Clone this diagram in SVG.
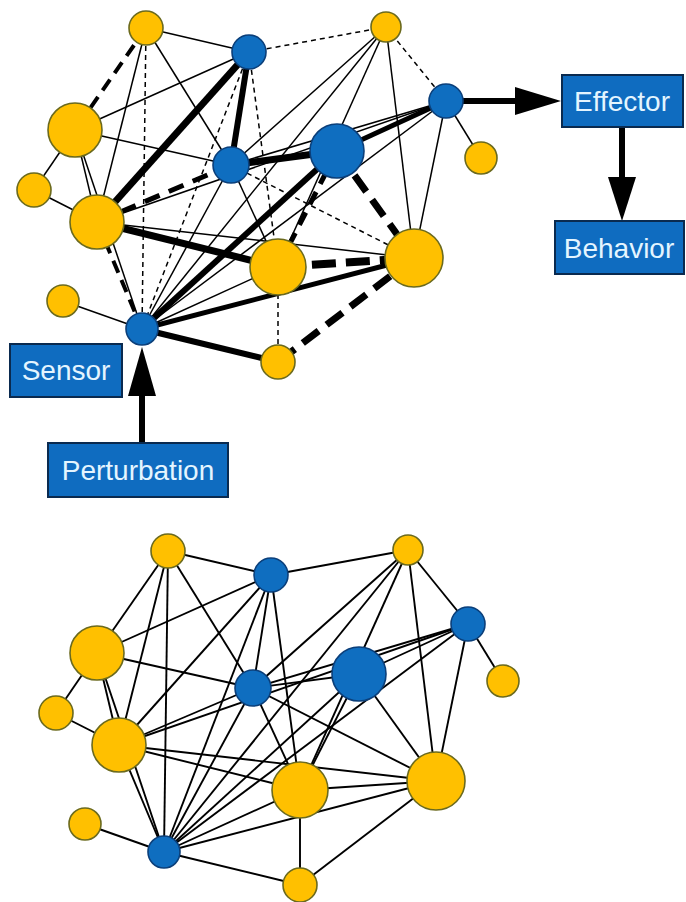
<svg xmlns="http://www.w3.org/2000/svg" width="686" height="902" viewBox="0 0 686 902">
<style>
.e line{stroke:#000;fill:none}
.t{stroke-width:1.5}
.td{stroke-width:1.5;stroke-dasharray:5 4}
.b line{stroke-width:1.9}
.y{fill:#FFC000;stroke:#6b6a1e;stroke-width:1.6}
.u{fill:#0F6EC0;stroke:#0b3f7a;stroke-width:1.6}
.box{fill:#0F6CC0;stroke:#0a2a4f;stroke-width:2}
.lbl{font-family:"Liberation Sans",Arial,sans-serif;font-size:28px;fill:#e4f5ff;text-anchor:middle}
</style>
<rect width="686" height="902" fill="#fff"/>
<g id="connectors">
<g class="e">
<line class="t" x1="146" y1="28" x2="249" y2="52"/>
<line class="td" x1="146" y1="28" x2="142" y2="329"/>
<line class="t" x1="146" y1="28" x2="97" y2="222"/>
<line class="t" x1="146" y1="28" x2="231" y2="165"/>
<line class="td" x1="249" y1="52" x2="386" y2="27"/>
<line class="td" x1="249" y1="52" x2="142" y2="329"/>
<line class="td" x1="249" y1="52" x2="278" y2="267"/>
<line class="t" x1="249" y1="52" x2="75" y2="130"/>
<line class="td" x1="386" y1="27" x2="446" y2="101"/>
<line class="t" x1="386" y1="27" x2="231" y2="165"/>
<line class="t" x1="386" y1="27" x2="278" y2="267"/>
<line class="t" x1="386" y1="27" x2="414" y2="258"/>
<line class="t" x1="386" y1="27" x2="142" y2="329"/>
<line class="t" x1="446" y1="101" x2="481" y2="158"/>
<line class="t" x1="446" y1="101" x2="414" y2="258"/>
<line class="t" x1="446" y1="101" x2="231" y2="165"/>
<line class="t" x1="446" y1="101" x2="142" y2="329"/>
<line class="t" x1="446" y1="101" x2="97" y2="222"/>
<line class="td" x1="231" y1="165" x2="414" y2="258"/>
<line class="t" x1="231" y1="165" x2="278" y2="267"/>
<line class="t" x1="231" y1="165" x2="142" y2="329"/>
<line class="t" x1="231" y1="165" x2="75" y2="130"/>
<line class="t" x1="97" y1="222" x2="414" y2="258"/>
<line class="t" x1="97" y1="222" x2="34" y2="190"/>
<line class="t" x1="97" y1="222" x2="75" y2="130"/>
<line class="t" x1="75" y1="130" x2="34" y2="190"/>
<line class="t" x1="75" y1="130" x2="142" y2="329"/>
<line class="t" x1="63" y1="301" x2="142" y2="329"/>
<line class="t" x1="142" y1="329" x2="278" y2="267"/>
<line class="td" x1="278" y1="267" x2="278" y2="362"/>
<line x1="146" y1="28" x2="75" y2="130" stroke-width="4" stroke-dasharray="13 8"/>
<line x1="97" y1="222" x2="142" y2="329" stroke-width="4" stroke-dasharray="13 8"/>
<line x1="97" y1="222" x2="231" y2="165" stroke-width="5" stroke-dasharray="16 10"/>
<line x1="337" y1="151" x2="278" y2="267" stroke-width="5" stroke-dasharray="14 9"/>
<line x1="337" y1="151" x2="414" y2="258" stroke-width="7" stroke-dasharray="20 10"/>
<line x1="278" y1="267" x2="414" y2="258" stroke-width="8" stroke-dasharray="24 10"/>
<line x1="414" y1="258" x2="278" y2="362" stroke-width="7" stroke-dasharray="20 10"/>
<line x1="249" y1="52" x2="97" y2="222" stroke-width="7"/>
<line x1="249" y1="52" x2="231" y2="165" stroke-width="6"/>
<line x1="446" y1="101" x2="337" y2="151" stroke-width="5"/>
<line x1="337" y1="151" x2="231" y2="165" stroke-width="7"/>
<line x1="337" y1="151" x2="142" y2="329" stroke-width="6"/>
<line x1="97" y1="222" x2="278" y2="267" stroke-width="7"/>
<line x1="142" y1="329" x2="414" y2="258" stroke-width="5"/>
<line x1="142" y1="329" x2="278" y2="362" stroke-width="6"/>
</g>
<g class="e b" transform="translate(22,523)">
<line x1="146" y1="28" x2="75" y2="130"/>
<line x1="146" y1="28" x2="249" y2="52"/>
<line x1="146" y1="28" x2="142" y2="329"/>
<line x1="146" y1="28" x2="97" y2="222"/>
<line x1="146" y1="28" x2="231" y2="165"/>
<line x1="249" y1="52" x2="386" y2="27"/>
<line x1="249" y1="52" x2="97" y2="222"/>
<line x1="249" y1="52" x2="231" y2="165"/>
<line x1="249" y1="52" x2="142" y2="329"/>
<line x1="249" y1="52" x2="278" y2="267"/>
<line x1="249" y1="52" x2="75" y2="130"/>
<line x1="386" y1="27" x2="446" y2="101"/>
<line x1="386" y1="27" x2="231" y2="165"/>
<line x1="386" y1="27" x2="278" y2="267"/>
<line x1="386" y1="27" x2="414" y2="258"/>
<line x1="386" y1="27" x2="142" y2="329"/>
<line x1="446" y1="101" x2="481" y2="158"/>
<line x1="446" y1="101" x2="414" y2="258"/>
<line x1="446" y1="101" x2="337" y2="151"/>
<line x1="446" y1="101" x2="231" y2="165"/>
<line x1="446" y1="101" x2="142" y2="329"/>
<line x1="446" y1="101" x2="97" y2="222"/>
<line x1="337" y1="151" x2="231" y2="165"/>
<line x1="337" y1="151" x2="414" y2="258"/>
<line x1="337" y1="151" x2="278" y2="267"/>
<line x1="337" y1="151" x2="142" y2="329"/>
<line x1="231" y1="165" x2="414" y2="258"/>
<line x1="231" y1="165" x2="278" y2="267"/>
<line x1="231" y1="165" x2="142" y2="329"/>
<line x1="231" y1="165" x2="75" y2="130"/>
<line x1="97" y1="222" x2="231" y2="165"/>
<line x1="97" y1="222" x2="278" y2="267"/>
<line x1="97" y1="222" x2="414" y2="258"/>
<line x1="97" y1="222" x2="142" y2="329"/>
<line x1="97" y1="222" x2="34" y2="190"/>
<line x1="97" y1="222" x2="75" y2="130"/>
<line x1="75" y1="130" x2="34" y2="190"/>
<line x1="75" y1="130" x2="142" y2="329"/>
<line x1="63" y1="301" x2="142" y2="329"/>
<line x1="142" y1="329" x2="278" y2="267"/>
<line x1="142" y1="329" x2="414" y2="258"/>
<line x1="142" y1="329" x2="278" y2="362"/>
<line x1="278" y1="267" x2="414" y2="258"/>
<line x1="278" y1="267" x2="278" y2="362"/>
<line x1="414" y1="258" x2="278" y2="362"/>
</g>
<g id="arrows" fill="#000" stroke="none">
<rect x="139" y="393" width="6" height="51"/>
<polygon points="128,396 156,396 142,347"/>
<rect x="460" y="98" width="57" height="6"/>
<polygon points="515,87 515,115 561,101"/>
<rect x="619" y="126" width="6" height="53"/>
<polygon points="608,177 636,177 622,221"/>
</g>
</g>
<g id="top-network">
<g id="nA"><circle class="y" cx="146" cy="28" r="17"/></g>
<g id="nB"><circle class="u" cx="249" cy="52" r="17"/></g>
<g id="nC"><circle class="y" cx="386" cy="27" r="15"/></g>
<g id="nD"><circle class="u" cx="446" cy="101" r="17"/></g>
<g id="nE"><circle class="y" cx="481" cy="158" r="16"/></g>
<g id="nF"><circle class="u" cx="337" cy="151" r="27"/></g>
<g id="nG"><circle class="u" cx="231" cy="165" r="18"/></g>
<g id="nH"><circle class="y" cx="75" cy="130" r="27"/></g>
<g id="nI"><circle class="y" cx="34" cy="190" r="17"/></g>
<g id="nJ"><circle class="y" cx="97" cy="222" r="27"/></g>
<g id="nK"><circle class="y" cx="63" cy="301" r="16"/></g>
<g id="nL"><circle class="u" cx="142" cy="329" r="16"/></g>
<g id="nM"><circle class="y" cx="278" cy="267" r="28"/></g>
<g id="nN"><circle class="y" cx="414" cy="258" r="29"/></g>
<g id="nO"><circle class="y" cx="278" cy="362" r="17"/></g>
</g>
<g id="bottom-network" transform="translate(22,523)">
<g id="mA"><circle class="y" cx="146" cy="28" r="17"/></g>
<g id="mB"><circle class="u" cx="249" cy="52" r="17"/></g>
<g id="mC"><circle class="y" cx="386" cy="27" r="15"/></g>
<g id="mD"><circle class="u" cx="446" cy="101" r="17"/></g>
<g id="mE"><circle class="y" cx="481" cy="158" r="16"/></g>
<g id="mF"><circle class="u" cx="337" cy="151" r="27"/></g>
<g id="mG"><circle class="u" cx="231" cy="165" r="18"/></g>
<g id="mH"><circle class="y" cx="75" cy="130" r="27"/></g>
<g id="mI"><circle class="y" cx="34" cy="190" r="17"/></g>
<g id="mJ"><circle class="y" cx="97" cy="222" r="27"/></g>
<g id="mK"><circle class="y" cx="63" cy="301" r="16"/></g>
<g id="mL"><circle class="u" cx="142" cy="329" r="16"/></g>
<g id="mM"><circle class="y" cx="278" cy="267" r="28"/></g>
<g id="mN"><circle class="y" cx="414" cy="258" r="29"/></g>
<g id="mO"><circle class="y" cx="278" cy="362" r="17"/></g>
</g>
<g id="sensor"><rect class="box" x="10" y="344" width="112" height="53"/><text class="lbl" x="66" y="380">Sensor</text></g>
<g id="perturbation"><rect class="box" x="48" y="443" width="180" height="54"/><text class="lbl" x="138" y="480">Perturbation</text></g>
<g id="effector"><rect class="box" x="562" y="75" width="121" height="52"/><text class="lbl" x="622" y="111">Effector</text></g>
<g id="behavior"><rect class="box" x="555" y="221" width="129" height="53"/><text class="lbl" x="619" y="258">Behavior</text></g>
</svg>
